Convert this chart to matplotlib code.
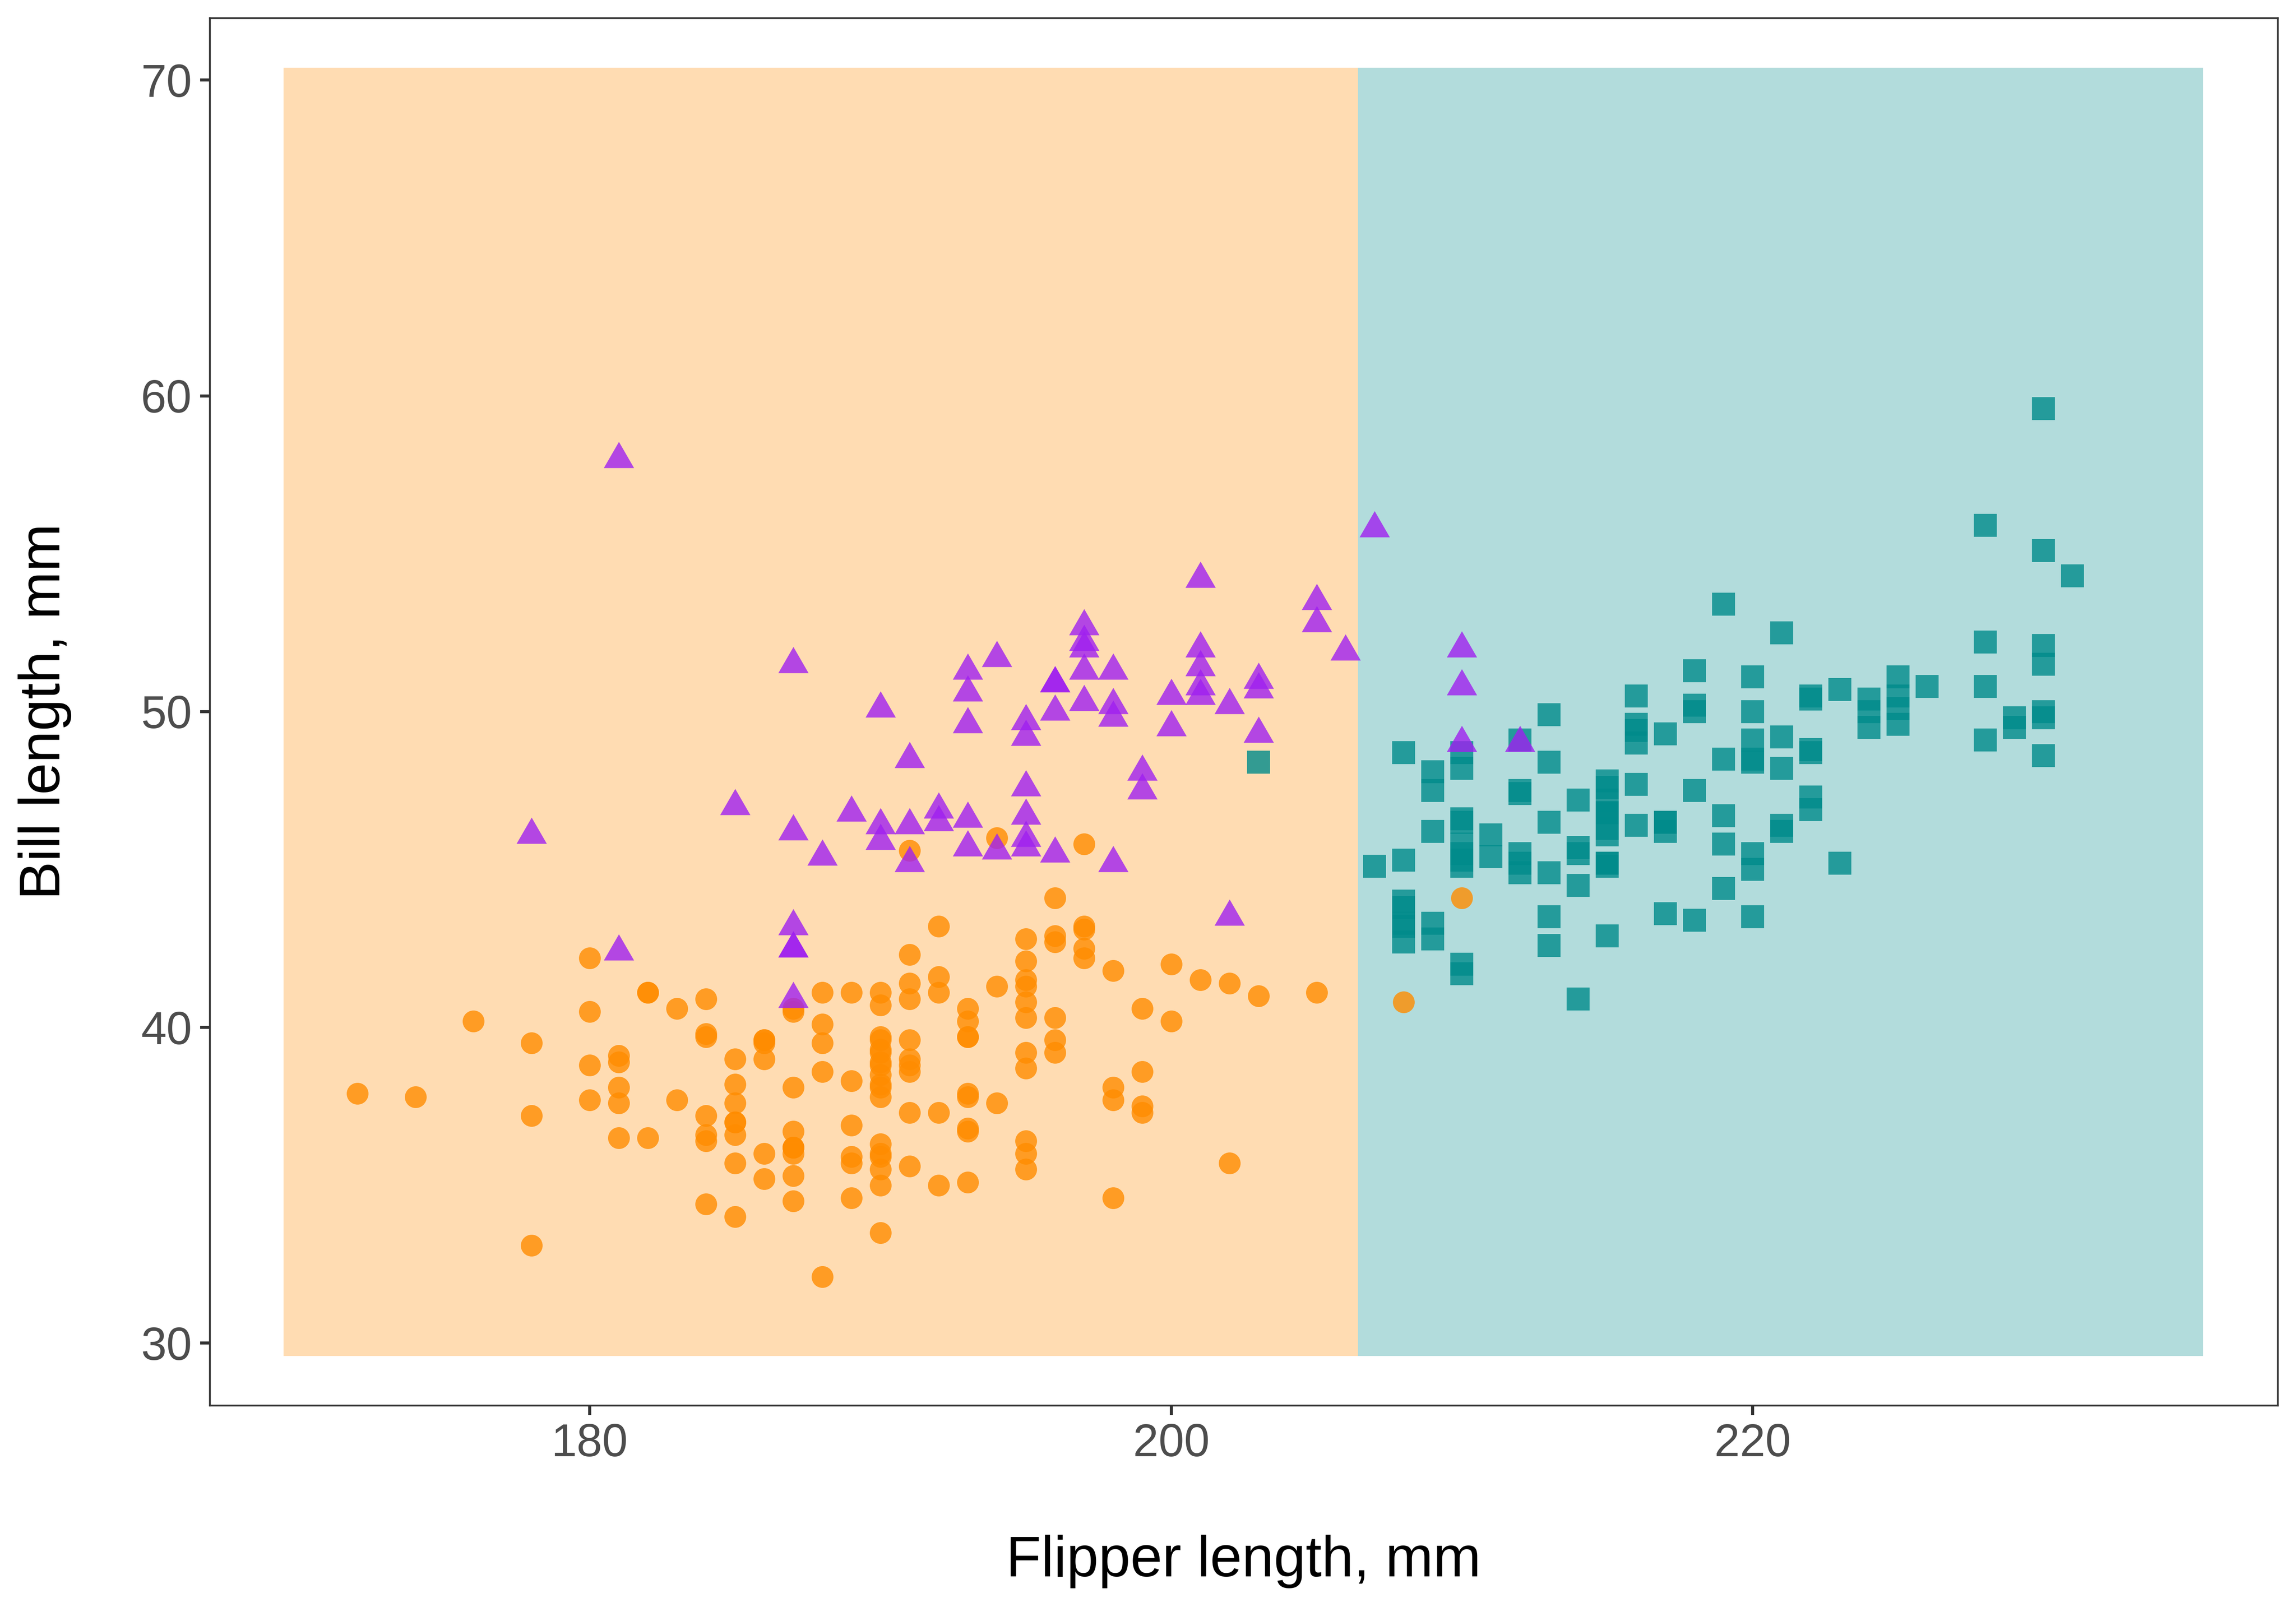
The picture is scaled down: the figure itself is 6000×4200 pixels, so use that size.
"""Penguins: bill length vs flipper length over a two-region classifier background."""
import matplotlib.pyplot as plt

plt.rcParams['font.family'] = ['Liberation Sans', 'DejaVu Sans']

# Adelie (flipper mm, bill mm)
adelie_flipper = [
    181, 186, 195, 193, 190, 181, 195, 182, 191, 198, 185, 195, 197, 184, 194,
    174, 180, 189, 185, 180, 187, 183, 187, 172, 180,
    178, 178, 188, 184, 195, 196, 190, 180, 181, 184, 182, 195, 186, 196, 185,
    190, 182, 190, 191,
    186, 188, 190, 200, 187, 191, 186, 193, 181, 194, 185, 195, 185, 192, 184,
    192, 195, 188,
    190, 198, 190, 190, 196, 197, 190, 195, 191, 184, 187, 195, 189, 196, 187, 193,
    191, 194, 190, 189, 189, 190, 202, 205, 185, 186, 187, 208, 190, 196, 178, 192,
    192, 203, 183, 190, 193, 184, 199, 190, 181, 197, 198, 191, 193, 197, 191, 196,
    188, 199, 189, 189, 187, 198, 176, 202, 186, 199, 191, 195, 191, 210, 190, 197,
    193, 199, 187, 190, 191, 200, 185, 193, 193, 187, 188, 190, 192, 185, 190, 184,
    195, 193, 187, 201,
]
adelie_bill = [
    39.1, 39.5, 40.3, 36.7, 39.3, 38.9, 39.2, 41.1, 38.6, 34.6, 36.6, 38.7, 42.5, 34.4, 46.0,
    37.8, 37.7, 35.9, 38.2, 38.8, 35.3, 40.6, 40.5, 37.9, 40.5,
    39.5, 37.2, 39.5, 40.9, 36.4, 39.2, 38.8, 42.2, 37.6, 39.8, 36.5, 40.8, 36.0, 44.1, 37.0,
    39.6, 41.1, 36.0, 42.3,
    39.6, 40.1, 35.0, 42.0, 34.5, 41.4, 39.0, 40.6, 36.5, 37.6, 35.7, 41.3, 37.6, 41.1, 36.4,
    41.6, 35.5, 41.1,
    35.9, 41.8, 33.5, 39.7, 39.6, 45.8, 35.5, 42.8, 40.9, 37.2, 36.2, 42.1, 34.6, 42.9, 36.7, 35.1,
    37.3, 41.3, 36.3, 36.9, 38.3, 38.9, 35.7, 41.1, 34.0, 39.6, 36.2, 40.8, 38.1, 40.3, 33.1, 43.2,
    35.0, 41.0, 37.7, 37.8, 37.9, 39.7, 38.6, 38.2, 38.1, 43.2, 38.1, 45.6, 39.7, 42.2, 39.6, 42.7,
    38.6, 37.3, 35.7, 41.1, 36.2, 37.7, 40.2, 41.4, 35.2, 40.6, 38.8, 41.5, 39.0, 44.1, 38.5, 43.1,
    36.8, 37.5, 38.1, 41.1, 35.6, 40.2, 37.0, 39.7, 40.2, 40.6, 32.1, 40.7, 37.3, 39.0, 39.2, 36.6,
    36.0, 37.8, 36.0, 41.5,
]

# Gentoo
gentoo_flipper = [
    211, 230, 210, 218, 215, 210, 211, 219, 209, 215, 214, 216, 214, 213, 210, 217,
    210, 221, 209, 222, 218, 215, 213, 215, 215, 215, 215, 210, 220, 222, 209, 207, 230,
    220, 220, 213, 219, 208, 208, 208, 225, 210, 216, 222, 217, 210, 225, 213, 215, 210,
    220, 210, 225, 217, 220, 208, 220, 208, 224, 208, 221, 214, 231, 219, 230, 229,
    220, 223, 216, 221, 221, 217, 216, 230, 209, 220, 215, 223,
    212, 221, 212, 224, 212, 228, 218, 218, 212, 230, 218, 228, 212, 224, 214, 226,
    216, 222, 203, 225, 219, 228, 215, 228, 215, 210, 219, 208, 209, 216, 229, 213,
    230, 217, 230, 222, 214, 215, 222, 212, 213,
]
gentoo_bill = [
    46.1, 50.0, 48.7, 50.0, 47.6, 46.5, 45.4, 46.7, 43.3, 46.8, 40.9, 49.0, 45.5, 48.4, 45.8, 49.3,
    42.0, 49.2, 46.2, 48.7, 50.2, 45.1, 46.5, 46.3, 42.9, 46.1, 47.8, 48.2, 50.0, 47.3, 42.8, 45.1, 59.6,
    49.1, 48.4, 42.6, 44.4, 44.0, 48.7, 42.7, 49.6, 45.3, 49.6, 50.5, 43.6, 45.5, 50.5, 44.9, 45.2, 46.6,
    48.5, 45.1, 50.1, 46.5, 45.0, 43.8, 45.5, 43.2, 50.4, 45.3, 46.2, 45.7, 54.3, 45.8, 49.8, 49.5,
    43.5, 50.7, 47.7, 46.4, 48.2, 46.5, 46.4, 48.6, 47.5, 51.1, 45.2, 45.2,
    49.1, 52.5, 47.4, 50.0, 44.9, 50.8, 43.4, 51.3, 47.5, 52.1, 47.5, 52.2, 45.5, 49.5, 44.5, 50.8,
    49.4, 46.9, 48.4, 51.1, 48.5, 55.9, 47.2, 49.1, 46.8, 41.7, 53.4, 43.3, 48.1, 50.5, 49.8, 43.5,
    51.5, 46.2, 55.1, 48.8, 47.2, 46.8, 50.4, 45.2, 49.9,
]

# Chinstrap
chinstrap_flipper = [
    192, 196, 193, 188, 197, 198, 178, 197, 195, 198, 193, 194, 185, 201, 190, 201,
    197, 181, 190, 195, 181, 191, 187, 193, 195, 197,
    200, 200, 191, 205, 187, 201, 187, 203, 195, 199, 195, 210, 192, 205, 210, 187,
    196, 196, 196, 201, 190, 212, 187, 198, 199, 201, 193, 203, 187, 197, 191, 203,
    202, 194, 206, 189, 195, 207, 202, 193, 210, 198,
]
chinstrap_bill = [
    46.5, 50.0, 51.3, 45.4, 52.7, 45.2, 46.1, 51.3, 46.0, 51.3, 46.6, 51.7, 47.0, 52.0, 45.9, 50.5,
    50.3, 58.0, 46.4, 49.2, 42.4, 48.5, 43.2, 50.6, 46.7, 52.0,
    50.5, 49.5, 46.4, 52.8, 40.9, 54.2, 42.5, 51.0, 49.7, 47.5, 47.6, 52.0, 46.9, 53.5, 49.0, 46.2,
    50.9, 45.5, 50.9, 50.8, 50.1, 49.0, 51.5, 49.8, 48.1, 51.4, 45.7, 50.7, 42.5, 52.2, 45.2, 49.3,
    50.2, 45.6, 51.9, 46.8, 45.7, 55.8, 43.5, 49.6, 50.8, 50.2,
]

# classifier regions: split on flipper length
region_edges = [169.47, 206.43, 235.49]
region_bill = [29.59, 70.39]
region_colors = ['#FF8C00', '#008B8B']

ORANGE, PURPLE, TEAL = '#FF8C00', '#A020F0', '#008B8B'
GREY20 = '#333333'
TRIANGLE = [(0, 0.577), (-0.5, -0.289), (0.5, -0.289), (0, 0.577)]

fig = plt.figure(figsize=(20, 14), dpi=300)
ax = fig.add_axes([0.09128, 0.12548, 0.90072, 0.86340])

for x0, x1, c in zip(region_edges[:-1], region_edges[1:], region_colors):
    ax.fill_between([x0, x1], region_bill[0], region_bill[1], color=c,
                    alpha=0.3, lw=0, zorder=0)

ax.scatter(adelie_flipper, adelie_bill, s=187, marker='o', color=ORANGE,
           alpha=0.8, linewidths=0, zorder=2)
ax.scatter(gentoo_flipper, gentoo_bill, s=204, marker='s', color=TEAL,
           alpha=0.8, linewidths=0, zorder=3)
ax.scatter(chinstrap_flipper, chinstrap_bill, s=480, marker=TRIANGLE,
           color=PURPLE, alpha=0.8, linewidths=0, zorder=4)

ax.set_xlim(166.92, 238.06)
ax.set_ylim(28.03, 71.97)
ax.set_xticks([180, 200, 220])
ax.set_yticks([30, 40, 50, 60, 70])

for sp in ax.spines.values():
    sp.set_color(GREY20)
    sp.set_linewidth(1.1)
ax.tick_params(length=6, width=1.9, color=GREY20, labelsize=28.8,
               labelcolor='#4D4D4D', pad=5)

ax.set_xlabel('Flipper length, mm', fontsize=36, color='black', va='center')
ax.set_ylabel('Bill length, mm', fontsize=36, color='black', va='center')
ax.xaxis.set_label_coords(0.5, -0.1124)
ax.yaxis.set_label_coords(-0.0797, 0.5)

fig.savefig('out.png', dpi=300)
